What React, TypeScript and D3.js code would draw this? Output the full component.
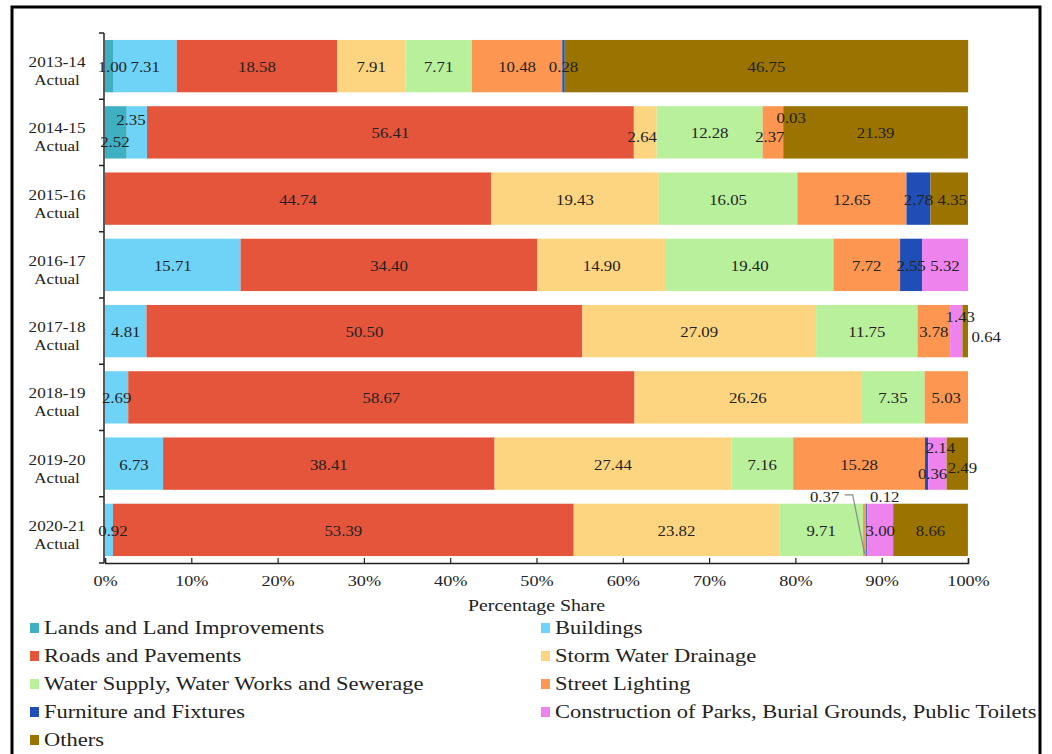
import { useEffect, useRef } from "react";
import * as d3 from "d3";

// Fiscal years (rows)
const years = [
  "2013-14",
  "2014-15",
  "2015-16",
  "2016-17",
  "2017-18",
  "2018-19",
  "2019-20",
  "2020-21",
];

const seriesNames = [
  "Lands and Land Improvements",
  "Buildings",
  "Roads and Pavements",
  "Storm Water Drainage",
  "Water Supply, Water Works and Sewerage",
  "Street Lighting",
  "Furniture and Fixtures",
  "Construction of Parks, Burial Grounds, Public Toilets",
  "Others",
];

// percentage share per year, one array per series
const lands = [1.0, 2.52, 0, 0, 0, 0, 0, 0];
const buildings = [7.31, 2.35, 0, 15.71, 4.81, 2.69, 6.73, 0.92];
const roads = [18.58, 56.41, 44.74, 34.4, 50.5, 58.67, 38.41, 53.39];
const storm = [7.91, 2.64, 19.43, 14.9, 27.09, 26.26, 27.44, 23.82];
const water = [7.71, 12.28, 16.05, 19.4, 11.75, 7.35, 7.16, 9.71];
const street = [10.48, 2.37, 12.65, 7.72, 3.78, 5.03, 15.28, 0.37];
const furniture = [0.28, 0.03, 2.78, 2.55, 0, 0, 0.36, 0.12];
const parks = [0, 0, 0, 5.32, 1.43, 0, 2.14, 3.0];
const others = [46.75, 21.39, 4.35, 0, 0.64, 0, 2.49, 8.66];

const seriesValues = [lands, buildings, roads, storm, water, street, furniture, parks, others];

const colors = [
  "#3fb0c2",
  "#6fd3f7",
  "#e5553b",
  "#fdd580",
  "#b9f09c",
  "#fd9650",
  "#1f4fb6",
  "#ef83ee",
  "#9a7300",
];

const xTicks = [0, 10, 20, 30, 40, 50, 60, 70, 80, 90, 100];

// hand placed labels for thin slices (row index, series index -> dx, dy)
const labelNudge: Record<string, [number, number]> = {
  "0-0": [3, 0],
  "1-0": [-1, 9],
  "1-1": [-6, -13],
  "1-3": [-3, 4],
  "1-5": [-3, 4],
  "1-6": [8, -15],
  "2-8": [3, 0],
  "4-7": [4, -15],
  "4-8": [21, 5],
  "6-6": [6, 9],
  "6-7": [3, -17],
  "6-8": [5, 3],
  "7-1": [4, 0],
  "7-5": [-40, -34],
  "7-6": [18, -34],
};

const FONT = "'Liberation Serif', 'Times New Roman', serif";

const App = () => {
  const svgRef = useRef<SVGSVGElement>(null);

  useEffect(() => {
    if (!svgRef.current) return;
    const svg = d3.select(svgRef.current);
    svg.selectAll("*").remove();

    const left = 105;
    const right = 968;
    const top = 33;
    const bottom = 563;

    const x = d3.scaleLinear().domain([0, 100]).range([left, right]);
    const y = d3
      .scaleBand<string>()
      .domain(years)
      .range([top, bottom])
      .paddingInner(0.21)
      .paddingOuter(0.105);

    // stacked data
    const table = years.map((yr, i) => {
      const row: Record<string, number | string> = { year: yr };
      seriesNames.forEach((s, j) => (row[s] = seriesValues[j][i]));
      return row;
    });
    const stack = d3.stack<Record<string, number | string>>().keys(seriesNames);
    const layers = stack(table as any);

    svg.append("rect").attr("width", 1052).attr("height", 754).attr("fill", "#fff");

    // frame
    svg
      .append("rect")
      .attr("x", 12)
      .attr("y", 7)
      .attr("width", 1028)
      .attr("height", 770)
      .attr("fill", "none")
      .attr("stroke", "#000")
      .attr("stroke-width", 3);

    const g = svg.append("g");

    layers.forEach((layer, j) => {
      g.append("g")
        .attr("fill", colors[j])
        .selectAll("rect")
        .data(layer)
        .enter()
        .append("rect")
        .attr("x", (d) => x(d[0]))
        .attr("y", (d, i) => y(years[i]) as number)
        .attr("width", (d) => Math.max(0, x(d[1]) - x(d[0])))
        .attr("height", y.bandwidth());
    });

    // value labels
    const labels = svg.append("g").attr("font-family", FONT).attr("font-size", 15).attr("fill", "#222");
    layers.forEach((layer, j) => {
      layer.forEach((d, i) => {
        const v = seriesValues[j][i];
        if (!v) return;
        const nudge = labelNudge[`${i}-${j}`] || [0, 0];
        const cx = (x(d[0]) + x(d[1])) / 2 + nudge[0];
        const cy = (y(years[i]) as number) + y.bandwidth() / 2 + nudge[1];
        labels
          .append("text")
          .attr("transform", `translate(${cx},${cy + 6}) scale(1.12,1)`)
          .attr("text-anchor", "middle")
          .text(v.toFixed(2));
        if (i === 7 && j === 5) {
          // leader line for 0.37
          const sx = (x(d[0]) + x(d[1])) / 2;
          const ty = cy - 1;
          labels
            .append("path")
            .attr(
              "d",
              `M${cx + 20},${ty} H${cx + 28} L${sx},${(y(years[i]) as number) + y.bandwidth() - 2}`
            )
            .attr("fill", "none")
            .attr("stroke", "#8a8a8a")
            .attr("stroke-width", 1.2);
        }
      });
    });

    // category axis
    const ya = svg.append("g");
    ya.append("line")
      .attr("x1", left - 1)
      .attr("x2", left - 1)
      .attr("y1", top)
      .attr("y2", bottom)
      .attr("stroke", "#222")
      .attr("stroke-width", 1.5);
    d3.range(years.length + 1).forEach((k) => {
      const ty = top + k * y.step();
      ya.append("line")
        .attr("x1", left - 6)
        .attr("x2", left - 1)
        .attr("y1", ty)
        .attr("y2", ty)
        .attr("stroke", "#222")
        .attr("stroke-width", 1.5);
    });
    years.forEach((yr) => {
      const cy = (y(yr) as number) + y.bandwidth() / 2;
      const t = ya
        .append("text")
        .attr("font-family", FONT)
        .attr("font-size", 15.5)
        .attr("fill", "#222")
        .attr("text-anchor", "middle")
        .attr("transform", `translate(57,${cy}) scale(1.1,1)`);
      t.append("tspan").attr("x", 0).attr("y", 1).text(yr);
      t.append("tspan").attr("x", 0).attr("y", 19).text("Actual");
    });

    // x axis
    const xa = svg
      .append("g")
      .attr("transform", `translate(0,${bottom})`)
      .call(
        d3
          .axisBottom(x)
          .tickValues(xTicks)
          .tickSizeInner(-5)
          .tickSizeOuter(-5)
          .tickPadding(19)
          .tickFormat((d) => `${d}%`)
      );
    xa.select(".domain").attr("stroke", "#222").attr("stroke-width", 1.5);
    xa.selectAll(".tick line").attr("stroke", "#222").attr("stroke-width", 1.2);
    xa.selectAll(".tick text")
      .attr("font-family", FONT)
      .attr("font-size", 14)
      .attr("fill", "#222")
      .attr("dy", "0.32em")
      .attr("transform", "scale(1.3,1)");

    svg
      .append("text")
      .attr("font-family", FONT)
      .attr("font-size", 16)
      .attr("fill", "#222")
      .attr("text-anchor", "middle")
      .attr("transform", `translate(${(left + right) / 2},${bottom + 48}) scale(1.24,1)`)
      .text("Percentage Share");

    // legend
    const lg = svg.append("g");
    seriesNames.forEach((name, j) => {
      const col = j % 2;
      const row = Math.floor(j / 2);
      const lx = col === 0 ? 30 : 541;
      const ly = 628 + row * 28;
      lg.append("rect")
        .attr("x", lx)
        .attr("y", ly - 5)
        .attr("width", 9)
        .attr("height", 10)
        .attr("fill", colors[j]);
      lg.append("text")
        .attr("font-family", FONT)
        .attr("font-size", 18)
        .attr("fill", "#222")
        .attr("transform", `translate(${lx + 14},${ly + 6}) scale(1.25,1)`)
        .text(name);
    });
  }, []);

  return (
    <svg
      ref={svgRef}
      width={1052}
      height={754}
      style={{ position: "absolute", left: 0, top: 0, display: "block" }}
    ></svg>
  );
};

export default App;
